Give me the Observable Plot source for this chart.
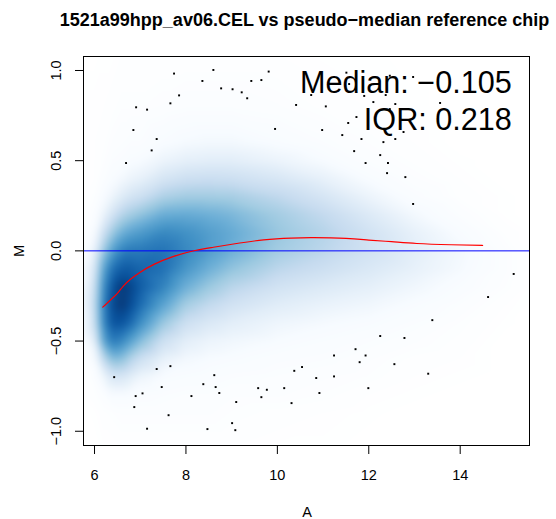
<!DOCTYPE html>
<html><head><meta charset="utf-8">
<script src="https://cdn.jsdelivr.net/npm/d3@7"></script>
<script src="https://cdn.jsdelivr.net/npm/@observablehq/plot@0.6"></script>
<style>html,body{margin:0;padding:0;background:#fff}#chart{width:556px;height:519px}</style>
</head><body><div id="chart"></div>
<script>
const titleText = "1521a99hpp_av06.CEL vs pseudo\u2212median reference chip";
const statLines = ["Median: \u22120.105", "IQR: 0.218"];
const xLabel = "A";
const yLabel = "M";
const xTicks = [6, 8, 10, 12, 14];
const yTicks = [-1.0, -0.5, 0.0, 0.5, 1.0];
const yTickLabels = ["\u22121.0", "\u22120.5", "0.0", "0.5", "1.0"];

// smoothed density (transformed, 0 = white, 1 = darkest) on a grid
const densityA = [5.7, 6.0, 6.2, 6.4, 6.6, 6.8, 7.0, 7.5, 8.0, 8.5, 9.0, 10.0, 11.0, 12.0, 13.0, 14.0, 15.0, 15.6];
const densityM = [1.1, 0.8, 0.6, 0.5, 0.4, 0.3, 0.2, 0.1, 0.0, -0.1, -0.2, -0.3, -0.4, -0.5, -0.6, -0.7, -0.8, -0.9, -1.1];
const densityRows = [
  [0, 0, 0.01, 0.01, 0.02, 0.02, 0.02, 0.02, 0.02, 0.02, 0.02, 0.02, 0.01, 0.01, 0, 0, 0, 0],
  [0.01, 0.02, 0.02, 0.03, 0.04, 0.04, 0.04, 0.05, 0.06, 0.06, 0.06, 0.05, 0.03, 0.02, 0.01, 0, 0, 0],
  [0.01, 0.02, 0.03, 0.05, 0.06, 0.07, 0.07, 0.10, 0.12, 0.13, 0.13, 0.10, 0.07, 0.04, 0.02, 0, 0, 0],
  [0.01, 0.02, 0.04, 0.07, 0.08, 0.10, 0.11, 0.16, 0.19, 0.20, 0.20, 0.16, 0.11, 0.06, 0.03, 0.01, 0, 0],
  [0.01, 0.02, 0.06, 0.10, 0.13, 0.16, 0.18, 0.26, 0.30, 0.31, 0.30, 0.25, 0.18, 0.10, 0.05, 0.02, 0, 0],
  [0.01, 0.04, 0.10, 0.16, 0.22, 0.27, 0.30, 0.40, 0.43, 0.43, 0.42, 0.35, 0.26, 0.16, 0.08, 0.03, 0.01, 0],
  [0.02, 0.06, 0.17, 0.28, 0.38, 0.43, 0.47, 0.56, 0.57, 0.55, 0.52, 0.43, 0.34, 0.23, 0.13, 0.06, 0.01, 0],
  [0.02, 0.10, 0.30, 0.45, 0.55, 0.60, 0.63, 0.70, 0.67, 0.62, 0.57, 0.46, 0.38, 0.28, 0.18, 0.10, 0.03, 0.01],
  [0.03, 0.18, 0.45, 0.62, 0.72, 0.75, 0.75, 0.77, 0.70, 0.62, 0.55, 0.43, 0.36, 0.28, 0.20, 0.13, 0.05, 0.01],
  [0.05, 0.25, 0.60, 0.78, 0.85, 0.85, 0.82, 0.78, 0.65, 0.55, 0.47, 0.36, 0.30, 0.24, 0.18, 0.12, 0.05, 0.01],
  [0.06, 0.30, 0.68, 0.88, 0.97, 0.93, 0.85, 0.72, 0.55, 0.45, 0.37, 0.28, 0.23, 0.19, 0.14, 0.09, 0.04, 0.01],
  [0.06, 0.33, 0.72, 0.92, 0.97, 0.90, 0.80, 0.60, 0.42, 0.34, 0.28, 0.21, 0.17, 0.14, 0.10, 0.06, 0.02, 0],
  [0.05, 0.30, 0.70, 0.88, 0.88, 0.80, 0.68, 0.45, 0.30, 0.24, 0.20, 0.15, 0.12, 0.10, 0.07, 0.04, 0.01, 0],
  [0.04, 0.20, 0.60, 0.75, 0.70, 0.60, 0.50, 0.30, 0.20, 0.16, 0.14, 0.11, 0.09, 0.07, 0.05, 0.03, 0, 0],
  [0.02, 0.10, 0.35, 0.50, 0.48, 0.38, 0.30, 0.18, 0.13, 0.11, 0.10, 0.08, 0.07, 0.05, 0.03, 0.02, 0, 0],
  [0.01, 0.05, 0.15, 0.25, 0.25, 0.20, 0.15, 0.10, 0.09, 0.08, 0.07, 0.06, 0.05, 0.04, 0.02, 0.01, 0, 0],
  [0.01, 0.03, 0.06, 0.10, 0.10, 0.09, 0.08, 0.07, 0.06, 0.06, 0.05, 0.05, 0.04, 0.02, 0.01, 0, 0, 0],
  [0, 0.01, 0.03, 0.04, 0.05, 0.05, 0.05, 0.05, 0.05, 0.05, 0.04, 0.03, 0.02, 0.01, 0, 0, 0, 0],
  [0, 0, 0.01, 0.01, 0.02, 0.02, 0.02, 0.02, 0.02, 0.02, 0.02, 0.01, 0.01, 0, 0, 0, 0, 0]
];
const rampColors = ["#FFFFFF", "#F7FBFF", "#DEEBF7", "#C6DBEF", "#9ECAE1", "#6BAED6", "#4292C6", "#2171B5", "#08519C", "#08306B"];

// loess fit
const loessA = [6.18, 6.35, 6.5, 6.63, 6.8, 7.0, 7.3, 7.7, 8.2, 8.6, 9.04, 9.7, 10.3, 10.8, 11.5, 12.0, 12.5, 13.05, 13.8, 14.49];
const loessM = [-0.312, -0.272, -0.236, -0.195, -0.155, -0.118, -0.075, -0.033, 0.002, 0.02, 0.038, 0.061, 0.071, 0.073, 0.069, 0.060, 0.051, 0.041, 0.034, 0.030];

// outlying points
const pointA = [7.74, 8.60, 9.81, 8.36, 9.43, 9.65, 8.77, 9.02, 9.22, 9.34, 7.85, 7.66, 6.91, 7.15, 6.85, 7.36, 7.25, 6.69, 9.95, 10.41, 10.74, 11.06, 10.98,
  11.51, 11.57, 11.90, 12.10, 12.58, 11.73, 11.55, 12.76, 13.56, 12.97, 12.46, 12.46, 12.37,
  11.68, 11.93, 12.25, 12.42, 12.40, 12.80, 12.97, 11.42, 11.84, 12.32, 12.58,
  6.43, 7.36, 7.66, 7.47, 6.90, 7.05, 6.87, 7.62, 7.15, 8.12, 8.38, 8.62, 8.65, 8.73, 9.10, 8.47, 9.01, 9.08, 9.58, 9.77, 9.65, 10.15, 10.31, 10.37, 10.54, 10.85, 10.92, 11.24, 11.24, 11.71, 11.93, 11.80, 11.99, 12.25, 12.56, 12.78, 13.30, 13.39, 14.61, 15.17];
const pointM = [0.983, 1.003, 0.994, 0.942, 0.942, 0.947, 0.901, 0.896, 0.879, 0.846, 0.862, 0.818, 0.796, 0.783, 0.670, 0.620, 0.557, 0.487, 0.676, 0.809, 0.864, 0.801, 0.670,
  0.988, 0.925, 0.859, 0.825, 0.814, 0.742, 0.709, 0.659, 0.820, 0.964, 0.971, 0.786, 0.864,
  0.553, 0.487, 0.531, 0.487, 0.431, 0.409, 0.260, 0.642, 0.620, 0.603, 0.620,
  -0.700, -0.655, -0.639, -0.755, -0.805, -0.790, -0.866, -0.911, -0.986, -0.805, -0.739, -0.689, -0.755, -0.788, -0.838, -0.988, -0.955, -0.994, -0.761, -0.770, -0.811, -0.761, -0.844, -0.665, -0.644, -0.705, -0.788, -0.696, -0.580, -0.545, -0.580, -0.617, -0.761, -0.472, -0.628, -0.483, -0.681, -0.384, -0.256, -0.128];

const density = [];
densityM.forEach((m, j) => densityA.forEach((a, i) => density.push({A: a, M: m, v: densityRows[j][i]})));
const loess = loessA.map((a, i) => ({A: a, M: loessM[i]}));
const points = pointA.map((a, i) => ({A: a, M: pointM[i]}));

const font = "'Liberation Sans', Arial, Helvetica, sans-serif";
const axisFont = 14.5;

const chart = Plot.plot({
  width: 556, height: 519,
  marginLeft: 83, marginRight: 27, marginTop: 56, marginBottom: 74,
  style: {fontFamily: font, color: "black", background: "white", overflow: "visible"},
  x: {domain: [5.759, 15.516]},
  y: {domain: [-1.079, 1.0776]},
  color: {type: "linear", domain: [0, 1], clamp: true, interpolate: d3.piecewise(d3.interpolateRgb, rampColors)},
  marks: [
    Plot.raster(density, {x: "A", y: "M", fill: "v", interpolate: "barycentric", blur: 3}),
    Plot.ruleY([0], {stroke: "#0000FF", strokeWidth: 1}),
    Plot.line(loess, {x: "A", y: "M", stroke: "#FF0000", strokeWidth: 1.2, curve: "natural"}),
    Plot.dot(points, {x: "A", y: "M", symbol: "square", r: 1.1, fill: "black"}),
    Plot.text([statLines[0]], {frameAnchor: "top-right", dx: -17.7, dy: 36.7, lineAnchor: "bottom", fontSize: 30.6, fill: "black"}),
    Plot.text([statLines[1]], {frameAnchor: "top-right", dx: -17.7, dy: 73.3, lineAnchor: "bottom", fontSize: 30.6, fill: "black"}),
    Plot.frame({stroke: "black", strokeWidth: 1}),
    Plot.axisX({ticks: xTicks, tickSize: 9, tickFormat: () => "", label: null}),
    Plot.text(xTicks, {x: d => d, frameAnchor: "bottom", dy: 34.3, lineAnchor: "bottom", fontSize: axisFont, text: d => String(d)}),
    Plot.axisY({ticks: yTicks, tickSize: 8, tickFormat: () => "", label: null}),
    Plot.text(yTicks, {y: d => d, frameAnchor: "left", dx: -23, rotate: -90, lineAnchor: "bottom", textAnchor: "middle", fontSize: axisFont, text: (d, i) => yTickLabels[i]}),
    Plot.text([xLabel], {frameAnchor: "bottom", dx: 0.7, dy: 71, lineAnchor: "bottom", fontSize: axisFont}),
    Plot.text([yLabel], {frameAnchor: "left", dx: -60, rotate: -90, lineAnchor: "bottom", textAnchor: "middle", fontSize: axisFont}),
    Plot.text([titleText], {frameAnchor: "top", dx: -2, dy: -31, textAnchor: "middle", lineAnchor: "bottom", fontSize: 18, fontWeight: "bold"})
  ]
});
document.getElementById("chart").appendChild(chart);
</script></body></html>
